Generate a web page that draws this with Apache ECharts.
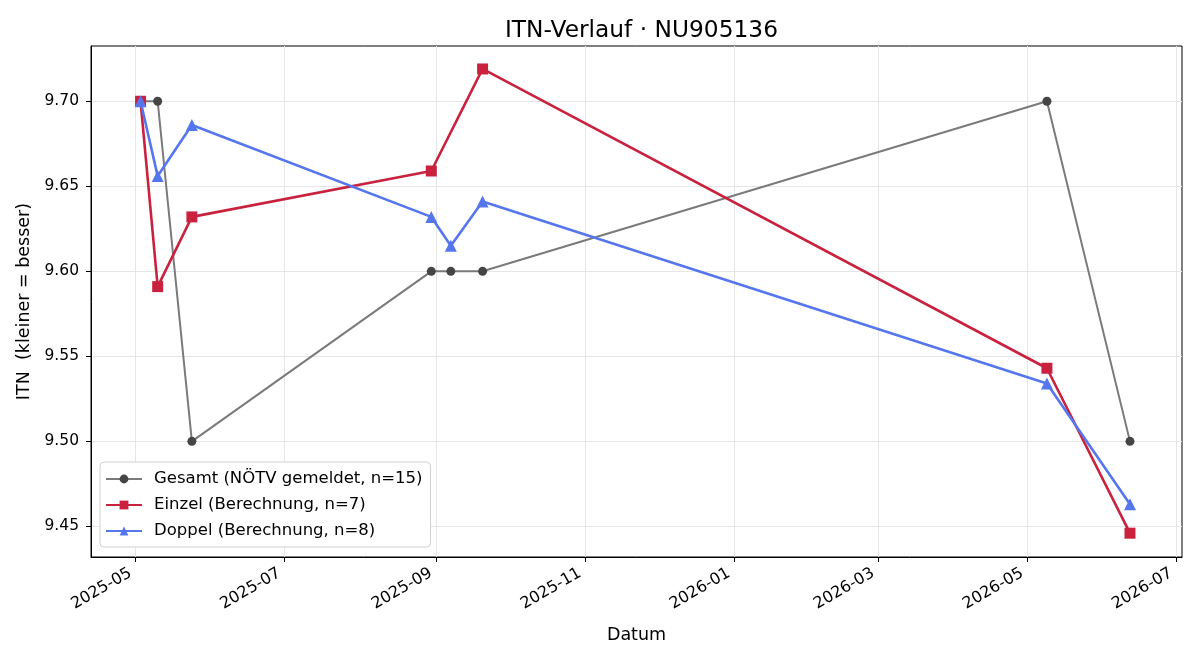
<!DOCTYPE html>
<html>
<head>
<meta charset="utf-8">
<script src="https://cdn.jsdelivr.net/npm/echarts@6/dist/echarts.min.js"></script>
<style>html,body{margin:0;padding:0;background:#fff}#c{width:1200px;height:660px}</style>
</head>
<body>
<div id="c"></div>
<script>
const title = 'ITN-Verlauf · NU905136';
const gesamtDates = ['2025-05-03','2025-05-10','2025-05-24','2025-08-30','2025-09-07','2025-09-20','2026-05-09','2026-06-12'];
const gesamtValues = [9.70, 9.70, 9.50, 9.60, 9.60, 9.60, 9.70, 9.50];
const einzelDates = ['2025-05-03','2025-05-10','2025-05-24','2025-08-30','2025-09-20','2026-05-09','2026-06-12'];
const einzelValues = [9.700, 9.591, 9.632, 9.659, 9.719, 9.543, 9.446];
const doppelDates = ['2025-05-03','2025-05-10','2025-05-24','2025-08-30','2025-09-07','2025-09-20','2026-05-09','2026-06-12'];
const doppelValues = [9.700, 9.656, 9.686, 9.632, 9.615, 9.641, 9.534, 9.463];
const xTickLabels = ['2025-05','2025-07','2025-09','2025-11','2026-01','2026-03','2026-05','2026-07'];
const yTickValues = [9.45, 9.50, 9.55, 9.60, 9.65, 9.70];
const seriesNames = ['Gesamt (NÖTV gemeldet, n=15)','Einzel (Berechnung, n=7)','Doppel (Berechnung, n=8)'];

const ts = s => { const p = s.split('-').map(Number); return Date.UTC(p[0], p[1]-1, p[2] || 1); };
const pairs = (d, v) => d.map((x, i) => [ts(x), v[i]]);
const xTicks = xTickLabels.map(ts);
const FONT = 'DejaVu Sans';

const chart = echarts.init(document.getElementById('c'), null, {renderer: 'canvas'});
chart.setOption({
  animation: false,
  textStyle: {fontFamily: FONT},
  title: {text: title, left: 500, top: 14, textStyle: {fontFamily: FONT, fontSize: 23.3, fontWeight: 'normal', color: '#000'}},
  grid: {left: 91, right: 18, top: 46, bottom: 103, show: true, borderColor: '#000', borderWidth: 1, containLabel: false},
  legend: {
    orient: 'vertical', left: 100, top: 462,
    backgroundColor: '#fff', borderColor: '#d0d0d0', borderWidth: 1, borderRadius: 4,
    padding: [8, 8, 7, 5], itemGap: 8, itemWidth: 36, itemHeight: 11,
    textStyle: {fontFamily: FONT, fontSize: 16.5, lineHeight: 18, color: '#000', padding: [0, 0, 0, 7]},
    data: seriesNames
  },
  xAxis: {
    type: 'value',
    min: Date.UTC(2025, 3, 12, 17), max: Date.UTC(2026, 6, 3, 7),
    name: 'Datum', nameLocation: 'middle', nameGap: 69,
    nameTextStyle: {fontFamily: FONT, fontSize: 17.5, color: '#000'},
    axisLine: {show: true, onZero: false, lineStyle: {color: '#000', width: 1}},
    axisTick: {show: true, inside: false, length: 5, customValues: xTicks, lineStyle: {color: '#000'}},
    axisLabel: {
      customValues: xTicks, rotate: 30, margin: 12, padding: [0, 6, 0, 0], fontFamily: FONT, fontSize: 16, color: '#000',
      formatter: v => { const d = new Date(v); return d.getUTCFullYear() + '-' + String(d.getUTCMonth()+1).padStart(2,'0'); }
    },
    splitLine: {show: true, lineStyle: {color: '#e6e6e6', width: 1}}
  },
  yAxis: {
    type: 'value', min: 9.432, max: 9.7325,
    name: 'ITN  (kleiner = besser)', nameLocation: 'middle', nameGap: 56, nameRotate: 90,
    nameTextStyle: {fontFamily: FONT, fontSize: 17.5, color: '#000'},
    axisLine: {show: true, onZero: false, lineStyle: {color: '#000', width: 1}},
    axisTick: {show: true, inside: false, length: 5, customValues: yTickValues, lineStyle: {color: '#000'}},
    axisLabel: {customValues: yTickValues, margin: 12, fontFamily: FONT, fontSize: 15.5, color: '#000', formatter: v => v.toFixed(2)},
    splitLine: {show: true, lineStyle: {color: '#e6e6e6', width: 1}}
  },
  series: [
    {name: seriesNames[0], type: 'line', data: pairs(gesamtDates, gesamtValues),
     symbol: 'circle', symbolSize: 9, showAllSymbol: true,
     lineStyle: {color: '#7a7a7a', width: 2}, itemStyle: {color: '#454545', borderWidth: 0}},
    {name: seriesNames[1], type: 'line', data: pairs(einzelDates, einzelValues),
     symbol: 'rect', symbolSize: 11, showAllSymbol: true,
     lineStyle: {color: '#c9223f', width: 2.6}, itemStyle: {color: '#c9223f', borderWidth: 0}},
    {name: seriesNames[2], type: 'line', data: pairs(doppelDates, doppelValues),
     symbol: 'triangle', symbolSize: 12, showAllSymbol: true,
     lineStyle: {color: '#5676ee', width: 2.6}, itemStyle: {color: '#5676ee', borderWidth: 0}}
  ]
});
</script>
</body>
</html>
